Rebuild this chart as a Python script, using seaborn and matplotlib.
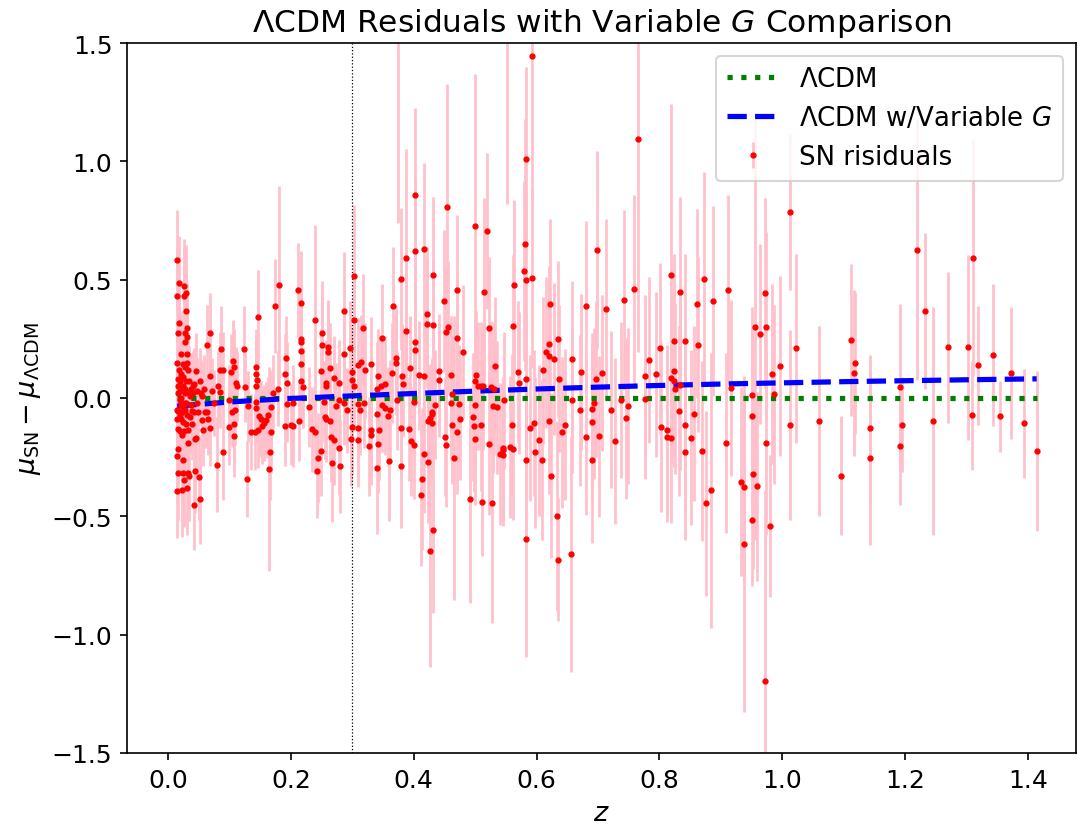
import matplotlib
matplotlib.use("Agg")
import matplotlib.pyplot as plt
import numpy as np
import pandas as pd
import seaborn as sns

# --- SN residuals, split by redshift range ---
# nearby (z < 0.1)
z_near = [0.015, 0.016, 0.016, 0.015, 0.015, 0.015, 0.015, 0.015, 0.015, 0.016,
          0.016, 0.016, 0.017, 0.017, 0.018, 0.018, 0.018, 0.019, 0.019, 0.020,
          0.020, 0.021, 0.021, 0.022, 0.023, 0.023, 0.023, 0.024, 0.024, 0.024,
          0.025, 0.025, 0.026, 0.026, 0.026, 0.026, 0.027, 0.027, 0.027, 0.027,
          0.028, 0.028, 0.029, 0.029, 0.030, 0.030, 0.031, 0.031, 0.031, 0.031,
          0.031, 0.031, 0.032, 0.033, 0.033, 0.033, 0.034, 0.035, 0.036, 0.037,
          0.038, 0.039, 0.039, 0.040, 0.041, 0.043, 0.043, 0.044, 0.044, 0.045,
          0.046, 0.048, 0.049, 0.050, 0.052, 0.053, 0.055, 0.057, 0.058, 0.060,
          0.063, 0.063, 0.065, 0.068, 0.068, 0.068, 0.071, 0.075, 0.080, 0.081,
          0.085, 0.085, 0.087, 0.090, 0.090, 0.017, 0.019, 0.021, 0.022, 0.024,
          0.025, 0.028, 0.030, 0.034, 0.036, 0.042, 0.047, 0.052, 0.056]
mu_near = [-0.05, 0.02, -0.13, 0.584, 0.432, 0.148, -0.09, -0.245, -0.392, 0.273,
           -0.056, -0.315, 0.08, -0.214, 0.484, 0.318, 0.12, -0.01, -0.14, 0.07,
           0.03, 0.186, -0.03, 0.10, -0.06, -0.155, -0.388, -0.262, -0.315, 0.05,
           0.144, -0.10, 0.472, 0.432, -0.14, -0.347, 0.273, 0.236, 0.13, 0.02,
           -0.02, -0.05, -0.11, 0.07, 0.445, 0.368, 0.294, 0.259, 0.185, 0.148,
           -0.07, -0.38, -0.318, 0.12, -0.135, -0.19, -0.328, 0.07, 0.01, 0.04,
           -0.03, -0.055, -0.11, 0.05, 0.02, -0.06, -0.452, -0.175, -0.308, 0.114,
           -0.167, 0.03, -0.06, -0.335, -0.428, 0.02, -0.094, -0.137, 0.04, -0.06,
           0.225, -0.06, -0.09, 0.275, 0.095, -0.127, 0.03, -0.02, -0.282, 0.05,
           0.117, 0.025, 0.207, 0.117, -0.229, 0.05, -0.07, 0.0, -0.09, 0.09,
           -0.04, 0.04, -0.02, 0.02, -0.08, 0.06, -0.02, 0.07, 0.01]
sig_near = [0.20, 0.20, 0.19, 0.21, 0.20, 0.18, 0.18, 0.19, 0.20, 0.20,
            0.17, 0.20, 0.17, 0.18, 0.20, 0.19, 0.17, 0.16, 0.17, 0.16,
            0.16, 0.18, 0.16, 0.17, 0.16, 0.17, 0.20, 0.19, 0.20, 0.15,
            0.17, 0.16, 0.20, 0.20, 0.16, 0.20, 0.19, 0.18, 0.17, 0.15,
            0.15, 0.15, 0.16, 0.15, 0.20, 0.19, 0.19, 0.18, 0.17, 0.17,
            0.15, 0.20, 0.19, 0.16, 0.16, 0.17, 0.19, 0.15, 0.14, 0.15,
            0.14, 0.15, 0.15, 0.15, 0.14, 0.15, 0.19, 0.16, 0.18, 0.16,
            0.16, 0.14, 0.14, 0.18, 0.19, 0.14, 0.15, 0.15, 0.14, 0.15,
            0.17, 0.15, 0.15, 0.17, 0.15, 0.16, 0.14, 0.14, 0.20, 0.15,
            0.16, 0.15, 0.18, 0.16, 0.20, 0.18, 0.17, 0.16, 0.17, 0.16,
            0.16, 0.15, 0.15, 0.15, 0.15, 0.15, 0.14, 0.14, 0.14]

# intermediate (0.1 < z < 0.3)
z_inter = [0.099, 0.100, 0.103, 0.104, 0.106, 0.108, 0.108, 0.108, 0.109, 0.111,
           0.113, 0.124, 0.125, 0.129, 0.130, 0.135, 0.141, 0.143, 0.143, 0.143,
           0.143, 0.144, 0.145, 0.146, 0.146, 0.148, 0.151, 0.153, 0.156, 0.159,
           0.163, 0.165, 0.166, 0.167, 0.168, 0.171, 0.175, 0.179, 0.180, 0.191,
           0.191, 0.192, 0.193, 0.193, 0.201, 0.204, 0.204, 0.212, 0.213, 0.217,
           0.217, 0.217, 0.217, 0.217, 0.217, 0.219, 0.229, 0.234, 0.240,
           0.240, 0.243, 0.245, 0.249, 0.249, 0.250, 0.251, 0.254, 0.256, 0.258,
           0.258, 0.258, 0.261, 0.261, 0.264, 0.264, 0.266, 0.267, 0.270, 0.270,
           0.274, 0.278, 0.278, 0.279, 0.280, 0.286, 0.286, 0.287, 0.292, 0.296]
mu_inter = [-0.01, -0.124, 0.11, -0.059, 0.158, 0.131, -0.11, -0.162, -0.049, 0.065,
            0.05, 0.208, 0.047, -0.343, -0.034, -0.145, -0.144, 0.131, 0.05, -0.017,
            -0.042, 0.101, 0.076, 0.341, -0.137, -0.078, -0.09, -0.12, -0.106, -0.094,
            -0.07, -0.30, -0.229, -0.145, -0.04, 0.02, 0.389, 0.04, 0.476, 0.10,
            -0.118, 0.168, 0.065, -0.025, -0.112, -0.02, -0.12, 0.456, -0.096, 0.401,
            0.25, 0.236, 0.20, 0.145, 0.07, 0.045, -0.037, -0.132, 0.331,
            -0.142, -0.307, -0.255, 0.113, -0.225, 0.275, 0.225, -0.015, -0.079, 0.063,
            0.052, -0.089, 0.214, 0.193, 0.127, -0.097, -0.165, -0.275, 0.083, -0.179,
            -0.034, 0.063, -0.21, -0.01, -0.287, 0.366, 0.187, -0.02, -0.052, 0.21]
sig_inter = [0.15, 0.16, 0.16, 0.15, 0.17, 0.16, 0.16, 0.17, 0.15, 0.15,
             0.15, 0.18, 0.15, 0.16, 0.15, 0.16, 0.16, 0.16, 0.15, 0.15,
             0.15, 0.16, 0.16, 0.20, 0.16, 0.16, 0.16, 0.16, 0.16, 0.16,
             0.16, 0.43, 0.20, 0.17, 0.16, 0.16, 0.20, 0.16, 0.42, 0.17,
             0.17, 0.18, 0.17, 0.16, 0.17, 0.16, 0.17, 0.20, 0.17, 0.22,
             0.19, 0.19, 0.18, 0.18, 0.17, 0.17, 0.17, 0.18, 0.40,
             0.18, 0.20, 0.19, 0.18, 0.19, 0.22, 0.21, 0.17, 0.18, 0.18,
             0.18, 0.18, 0.20, 0.20, 0.19, 0.18, 0.19, 0.25, 0.18, 0.19,
             0.18, 0.18, 0.20, 0.18, 0.20, 0.25, 0.20, 0.18, 0.18, 0.20]

# mid (0.3 < z < 0.6)
z_mid = [0.298, 0.299, 0.299, 0.300, 0.302, 0.302, 0.302, 0.310, 0.310, 0.310,
         0.310, 0.313, 0.314, 0.317, 0.319, 0.320, 0.327, 0.330, 0.331, 0.331,
         0.340, 0.341, 0.341, 0.342, 0.342, 0.344, 0.346, 0.348, 0.348, 0.353,
         0.354, 0.358, 0.360, 0.361, 0.364, 0.367, 0.371, 0.371, 0.373, 0.374,
         0.380, 0.380, 0.380, 0.381, 0.383, 0.388, 0.388, 0.392, 0.394, 0.396,
         0.400, 0.400, 0.402, 0.402, 0.402, 0.402, 0.409, 0.412, 0.414, 0.416,
         0.417, 0.417, 0.422, 0.422, 0.423, 0.424, 0.426, 0.427, 0.429, 0.430,
         0.430, 0.431, 0.431, 0.431, 0.435, 0.441, 0.441, 0.450, 0.451, 0.452,
         0.453, 0.454, 0.456, 0.461, 0.461, 0.462, 0.462, 0.466, 0.470, 0.470,
         0.471, 0.473, 0.476, 0.480, 0.491, 0.496, 0.498, 0.499, 0.499, 0.500,
         0.500, 0.502, 0.505, 0.509, 0.510, 0.511, 0.512, 0.515, 0.520,
         0.522, 0.523, 0.525, 0.527, 0.529, 0.530, 0.533, 0.536, 0.540, 0.545,
         0.546, 0.546, 0.547, 0.552, 0.556, 0.560, 0.561, 0.562, 0.563, 0.569,
         0.571, 0.580, 0.581, 0.582, 0.582, 0.582, 0.583, 0.583, 0.589, 0.592,
         0.593, 0.595, 0.597]
mu_mid = [-0.172, 0.11, 0.075, -0.121, 0.514, 0.331, 0.05, 0.139, -0.025, -0.128,
          -0.177, -0.052, 0.151, 0.296, -0.023, 0.117, -0.204, 0.144, -0.134, -0.157,
          -0.066, 0.036, -0.296, 0.092, -0.193, -0.135, 0.05, 0.252, -0.028, 0.06,
          -0.042, -0.077, -0.268, -0.049, 0.106, 0.39, 0.17, 0.148, -0.01, 1.62,
          0.501, -0.127, -0.289, 0.094, 0.06, 0.283, 0.593, -0.13, 0.127, -0.182,
          -0.017, -0.198, 0.856, 0.62, 0.238, 0.204, 0.096, -0.408, -0.343, 0.092,
          0.631, -0.235, 0.356, 0.312, -0.096, -0.269, -0.645, -0.085, -0.066, -0.06,
          -0.106, 0.521, 0.307, -0.559, -0.028, 0.113, 0.075, 0.408, -0.163, -0.20,
          0.277, 0.808, 0.30, 0.097, -0.021, 0.018, -0.115, -0.255, 0.455, 0.252,
          -0.145, -0.025, -0.087, 0.196, -0.427, -0.08, -0.118, 0.727, -0.028, 0.073,
          -0.172, 0.096, 0.05, 0.05, -0.112, -0.438, 0.049, 0.447, 0.707,
          -0.194, 0.297, 0.045, -0.442, -0.035, 0.04, 0.137, -0.04, -0.236, -0.21,
          -0.22, -0.24, -0.01, 1.68, -0.206, -0.115, -0.216, 0.304, 0.477, 0.111,
          0.065, 0.535, 0.649, 1.008, 0.082, -0.596, 0.50, -0.263, -0.127, 0.505,
          1.444, -0.106, -0.23]
sig_mid = [0.20, 0.19, 0.19, 0.20, 0.30, 0.22, 0.19, 0.20, 0.19, 0.20,
           0.20, 0.19, 0.20, 0.23, 0.19, 0.20, 0.21, 0.20, 0.20, 0.21,
           0.20, 0.20, 0.28, 0.20, 0.21, 0.21, 0.20, 0.23, 0.20, 0.20,
           0.20, 0.21, 0.25, 0.21, 0.21, 0.25, 0.22, 0.22, 0.21, 0.88,
           0.30, 0.22, 0.26, 0.22, 0.22, 0.25, 0.46, 0.22, 0.22, 0.23,
           0.22, 0.23, 0.37, 0.30, 0.24, 0.24, 0.23, 0.30, 0.30, 0.23,
           0.36, 0.25, 0.28, 0.27, 0.23, 0.26, 0.49, 0.23, 0.23, 0.23,
           0.23, 0.33, 0.27, 0.35, 0.23, 0.24, 0.24, 0.30, 0.25, 0.26,
           0.28, 0.52, 0.28, 0.25, 0.24, 0.24, 0.25, 0.60, 0.32, 0.28,
           0.26, 0.25, 0.26, 0.28, 0.44, 0.27, 0.28, 0.64, 0.27, 0.27,
           0.28, 0.27, 0.27, 0.27, 0.28, 0.23, 0.27, 0.40, 0.33,
           0.30, 0.30, 0.28, 0.51, 0.28, 0.28, 0.29, 0.28, 0.30, 0.30,
           0.30, 0.30, 0.29, 0.86, 0.30, 0.30, 0.30, 0.30, 0.36, 0.30,
           0.30, 0.38, 0.53, 0.39, 0.30, 0.50, 0.37, 0.33, 0.31, 0.38,
           0.60, 0.31, 0.32]

# distant (z > 0.6)
z_far = [0.604, 0.608, 0.611, 0.615, 0.621, 0.621, 0.621, 0.622, 0.624, 0.629,
         0.633, 0.635, 0.635, 0.637, 0.642, 0.647, 0.656, 0.657, 0.658, 0.671,
         0.672, 0.680, 0.681, 0.690, 0.690, 0.691, 0.694, 0.696, 0.699, 0.701,
         0.707, 0.713, 0.721, 0.727, 0.737, 0.743, 0.746, 0.748, 0.758, 0.765,
         0.776, 0.776, 0.783, 0.795, 0.801, 0.803, 0.812, 0.813, 0.818, 0.819,
         0.819, 0.823, 0.823, 0.824, 0.825, 0.832, 0.833, 0.833, 0.841, 0.842,
         0.842, 0.852, 0.856, 0.861, 0.862, 0.870, 0.872, 0.876, 0.884, 0.887,
         0.908, 0.912, 0.916, 0.932, 0.937, 0.938, 0.951, 0.951, 0.951, 0.952,
         0.955, 0.959, 0.963, 0.972, 0.972, 0.973, 0.974, 0.980, 0.983, 0.987,
         0.996, 1.013, 1.013, 1.023, 1.060, 1.095, 1.112, 1.116, 1.118, 1.143,
         1.143, 1.191, 1.192, 1.194, 1.219, 1.233, 1.245, 1.269, 1.303, 1.309,
         1.310, 1.319, 1.343, 1.354, 1.373, 1.393, 1.414]
mu_far = [-0.179, -0.262, 0.117, 0.193, 0.229, 0.178, -0.096, 0.397, -0.328, 0.164,
          -0.498, 0.248, -0.683, 0.082, -0.145, -0.113, -0.659, 0.166, -0.007, -0.052,
          0.111, -0.166, 0.388, -0.262, -0.10, -0.046, -0.023, 0.08, 0.625, -0.162,
          0.104, 0.375, -0.049, -0.183, -0.007, 0.415, -0.086, -0.035, 0.459, 1.093,
          0.095, -0.003, 0.16, 0.10, 0.21, -0.123, -0.165, -0.137, 0.521, 0.085,
          -0.168, 0.115, 0.07, 0.24, 0.04, -0.056, 0.448, 0.055, -0.23, 0.24,
          -0.116, -0.168, -0.066, 0.398, 0.225, -0.224, 0.503, -0.445, -0.39, 0.41,
          -0.19, 0.458, 0.042, -0.353, -0.376, -0.615, 0.014, -0.075, -0.515, -0.321,
          0.301, -0.373, 0.27, 0.444, -1.197, 0.301, -0.19, -0.541, 0.10, 0.015,
          0.135, 0.786, -0.114, 0.21, -0.097, -0.328, 0.246, 0.105, 0.15, -0.128,
          -0.253, 0.046, -0.203, -0.113, 0.624, 0.366, -0.097, 0.214, 0.214, -0.073,
          0.593, 0.138, 0.183, -0.077, 0.106, -0.106, -0.224]
sig_far = [0.32, 0.34, 0.31, 0.32, 0.33, 0.32, 0.31, 0.36, 0.35, 0.32,
           0.40, 0.33, 0.26, 0.31, 0.32, 0.32, 0.50, 0.33, 0.31, 0.32,
           0.33, 0.33, 0.36, 0.35, 0.33, 0.32, 0.32, 0.33, 0.42, 0.34,
           0.33, 0.38, 0.33, 0.35, 0.33, 0.38, 0.34, 0.33, 0.40, 0.90,
           0.34, 0.34, 0.35, 0.35, 0.36, 0.36, 0.36, 0.36, 0.72, 0.36,
           0.36, 0.36, 0.36, 0.37, 0.36, 0.36, 0.40, 0.36, 0.37, 0.37,
           0.36, 0.37, 0.37, 0.40, 0.37, 0.38, 0.45, 0.39, 0.58, 0.40,
           0.38, 0.40, 0.37, 0.40, 0.40, 0.71, 0.37, 0.38, 0.28, 0.40,
           0.90, 0.40, 0.38, 0.40, 0.81, 0.40, 0.39, 0.30, 0.38, 0.38,
           0.38, 0.33, 0.40, 0.40, 0.40, 0.25, 0.32, 0.35, 0.30, 0.31,
           0.37, 0.35, 0.25, 0.20, 0.55, 0.33, 0.48, 0.32, 0.39, 0.23,
           0.50, 0.25, 0.30, 0.15, 0.28, 0.23, 0.34]

# model curves (residual relative to LCDM)
z_model = [0.015, 0.05, 0.1, 0.15, 0.2, 0.3, 0.4, 0.5, 0.6, 0.7, 0.8, 0.9,
           1.0, 1.1, 1.2, 1.3, 1.414]
mu_lcdm = [0.0, 0.0, 0.0, 0.0, 0.0, 0.0, 0.0, 0.0, 0.0, 0.0, 0.0, 0.0,
           0.0, 0.0, 0.0, 0.0, 0.0]
mu_varG = [-0.034, -0.027, -0.017, -0.009, -0.002, 0.009, 0.019, 0.029, 0.038,
           0.046, 0.053, 0.059, 0.064, 0.069, 0.073, 0.077, 0.081]


sn = pd.DataFrame({
    "z": np.concatenate([z_near, z_inter, z_mid, z_far]),
    "dmu": np.concatenate([mu_near, mu_inter, mu_mid, mu_far]),
    "sig": np.concatenate([sig_near, sig_inter, sig_mid, sig_far]),
})

plt.rcParams['font.family'] = ['DejaVu Sans']
plt.rcParams['mathtext.fontset'] = 'dejavusans'
plt.rcParams['font.size'] = 12

fig = plt.figure(figsize=(1078 / 150, 834 / 150), dpi=150)
ax = fig.add_axes([127 / 1078, 80 / 834, 949 / 1078, 710 / 834])

ax.errorbar(sn["z"], sn["dmu"], yerr=sn["sig"], fmt='.', color='red',
            ecolor='pink', elinewidth=1.3, markersize=4, label='SN risiduals')

sns.lineplot(x=z_model, y=mu_lcdm, color='green', linestyle=':', linewidth=2.5,
             label=r'$\Lambda$CDM', ax=ax)
sns.lineplot(x=z_model, y=mu_varG, color='blue', linestyle='--', linewidth=2.5,
             label=r'$\Lambda$CDM w/Variable $G$', ax=ax)

ax.axvline(0.3, color='black', linestyle=':', linewidth=0.6)

ax.set_xlim(-0.0667, 1.478)
ax.set_ylim(-1.5, 1.5)
ax.set_xlabel(r'$z$', fontsize=13)
ax.set_ylabel(r'$\mu_{\rm SN} - \mu_{\Lambda{\rm CDM}}$', fontsize=13)
ax.set_title(r'$\Lambda$CDM Residuals with Variable $G$ Comparison', fontsize=15)
ax.tick_params(labelsize=12)
ax.legend(loc='upper right', fontsize=12.5)

fig.savefig('out.png', dpi=150)
